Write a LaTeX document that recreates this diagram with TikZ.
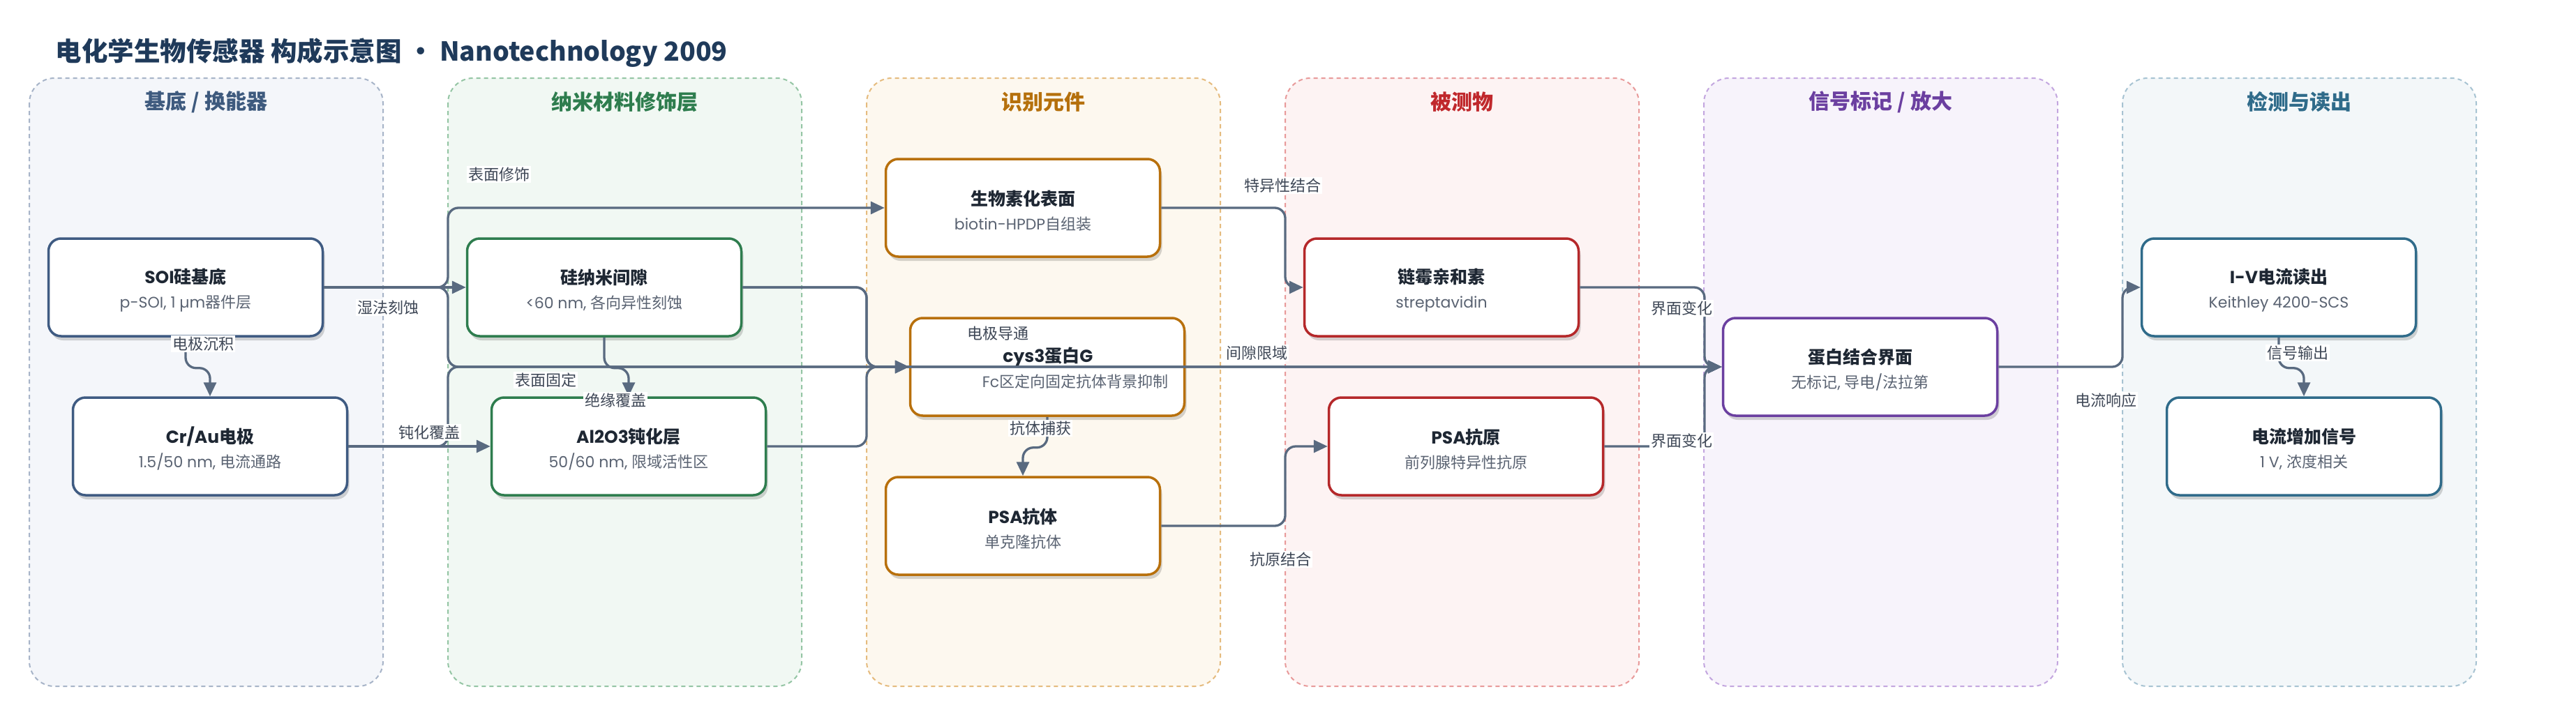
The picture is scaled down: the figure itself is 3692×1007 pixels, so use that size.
\documentclass[tikz,border=0pt]{standalone}
\usepackage{fontspec}
\setmainfont{Poppins}
\newfontfamily\cjkfam{Noto Sans CJK SC}
\newfontfamily\latfam{Poppins}
\usetikzlibrary{arrows.meta,shadows}

\XeTeXinterchartokenstate=1
\newXeTeXintercharclass\CJKcls
\count255="2E80
\loop
  \XeTeXcharclass\count255=\CJKcls
  \ifnum\count255<"9FFF \advance\count255 by 1
\repeat
\count255="FF00
\loop
  \XeTeXcharclass\count255=\CJKcls
  \ifnum\count255<"FFEF \advance\count255 by 1
\repeat
\XeTeXinterchartoks 0 \CJKcls = {\cjkfam}
\XeTeXinterchartoks 4095 \CJKcls = {\cjkfam}
\XeTeXinterchartoks \CJKcls 0 = {\latfam}

\definecolor{titlecol}{HTML}{1F3A5A}
\definecolor{nodetitle}{HTML}{1E2733}
\definecolor{subcol}{HTML}{5A6372}
\definecolor{labelcol}{HTML}{3E4756}
\definecolor{edgecol}{HTML}{596A80}
\definecolor{fA}{HTML}{F4F6FA}\definecolor{bA}{HTML}{A7B4C8}\definecolor{tA}{HTML}{3E5A7E}\definecolor{nA}{HTML}{3F5B82}
\definecolor{fB}{HTML}{F1F8F3}\definecolor{bB}{HTML}{94C5A4}\definecolor{tB}{HTML}{2E7D4E}\definecolor{nB}{HTML}{2E7D4E}
\definecolor{fC}{HTML}{FDF8EF}\definecolor{bC}{HTML}{E5BB7E}\definecolor{tC}{HTML}{B5700C}\definecolor{nC}{HTML}{B8700C}
\definecolor{fD}{HTML}{FDF3F3}\definecolor{bD}{HTML}{E89A9A}\definecolor{tD}{HTML}{C0282C}\definecolor{nD}{HTML}{B5282A}
\definecolor{fE}{HTML}{F7F3FB}\definecolor{bE}{HTML}{C3A6DF}\definecolor{tE}{HTML}{6B3FA0}\definecolor{nE}{HTML}{6B3FA0}
\definecolor{fF}{HTML}{F3F7F9}\definecolor{bF}{HTML}{A7C3D2}\definecolor{tF}{HTML}{2F6B8A}\definecolor{nF}{HTML}{2F6B8A}

\newcommand\ntxt[2]{\rule{0pt}{30pt}{\bfseries\fontsize{25}{35}\selectfont #1}\\{\color{subcol}\fontsize{22}{35}\selectfont #2}}

\tikzset{
  lane/.style={rounded corners=36pt, line width=2pt, dash pattern=on 6pt off 5pt},
  lanetitle/.style={font=\bfseries\fontsize{30}{36}\selectfont, anchor=center},
  box/.style={rounded corners=18pt, line width=3.5pt, fill=white, minimum width=393pt,
    minimum height=140pt, align=center, inner sep=0pt, text=nodetitle,
    font=\fontsize{22}{35}\selectfont,
    drop shadow={shadow xshift=3pt, shadow yshift=-6pt, opacity=0.16, fill=black}},
  edge/.style={line width=3.3pt, draw=edgecol, rounded corners=15pt,
    -{Triangle[length=20pt,width=18pt]}},
  elabel/.style={fill=white, inner sep=2pt, text=labelcol, font=\fontsize{22}{26}\selectfont},
}

\begin{document}
\begin{tikzpicture}[x=1pt,y=-1pt]
\useasboundingbox (0,0) rectangle (3692,1007);
\fill[white] (0,0) rectangle (3692,1007);

% title
\node[anchor=west, text=titlecol, font={\XeTeXinterchartokenstate=0 \cjkfam\bfseries\fontsize{37.5}{44}\selectfont}] (title) at (76,76) {电化学生物传感器 构成示意图 · Nanotechnology 2009};

% lanes
\draw[lane, fill=fA, draw=bA] (42,112) rectangle (549,984);
\draw[lane, fill=fB, draw=bB] (642,112) rectangle (1149,984);
\draw[lane, fill=fC, draw=bC] (1242,112) rectangle (1749,984);
\draw[lane, fill=fD, draw=bD] (1842,112) rectangle (2349,984);
\draw[lane, fill=fE, draw=bE] (2442,112) rectangle (2949,984);
\draw[lane, fill=fF, draw=bF] (3042,112) rectangle (3549,984);

\node[lanetitle, text=tA] (lt1) at (295.5,146) {基底 / 换能器};
\node[lanetitle, text=tB] (lt2) at (895.5,146) {纳米材料修饰层};
\node[lanetitle, text=tC] (lt3) at (1495.5,146) {识别元件};
\node[lanetitle, text=tD] (lt4) at (2095.5,146) {被测物};
\node[lanetitle, text=tE] (lt5) at (2695.5,146) {信号标记 / 放大};
\node[lanetitle, text=tF] (lt6) at (3295.5,146) {检测与读出};

% nodes
\node[box, draw=nA] (soi) at (266,412) {\ntxt{SOI硅基底}{p-SOI, 1 µm器件层}};
\node[box, draw=nA] (crau) at (301,640) {\ntxt{Cr/Au电极}{1.5/50 nm, 电流通路}};
\node[box, draw=nB] (gap) at (866,412) {\ntxt{硅纳米间隙}{<60 nm, 各向异性刻蚀}};
\node[box, draw=nB] (al) at (901,640) {\ntxt{Al2O3钝化层}{50/60 nm, 限域活性区}};
\node[box, draw=nC] (bio) at (1466,298) {\ntxt{生物素化表面}{biotin-HPDP自组装}};
\node[box, draw=nC] (cys) at (1501,526) {};
\node[box, draw=nC] (ab) at (1466,754) {\ntxt{PSA抗体}{单克隆抗体}};
\node[box, draw=nD] (sa) at (2066,412) {\ntxt{链霉亲和素}{streptavidin}};
\node[box, draw=nD] (ag) at (2101,640) {\ntxt{PSA抗原}{前列腺特异性抗原}};
\node[box, draw=nE] (iface) at (2666,526) {\ntxt{蛋白结合界面}{无标记, 导电/法拉第}};
\node[box, draw=nF] (iv) at (3266,412) {\ntxt{I-V电流读出}{Keithley 4200-SCS}};
\node[box, draw=nF] (sig) at (3302,640) {\ntxt{电流增加信号}{1 V, 浓度相关}};

\node[text=nodetitle, font=\bfseries\fontsize{25}{30}\selectfont] (cysT) at (1502,512) {cys3蛋白G};
\node[text=subcol, font=\fontsize{22}{26}\selectfont] (cysS) at (1541,547) {Fc区定向固定抗体背景抑制};

% edges
\draw[edge] (soi.east) -- (gap.west);
\draw[edge] (soi.south) -- ++(0,44) -| (crau.north);
\draw[edge] (soi.east) -- (642,412) |- (bio.west);
\draw[edge] (soi.east) -- (642,412) |- (cys.west);
\draw[edge] (crau.east) -- (642,640) |- (iface.west);
\draw[edge] (crau.east) -- (al.west);
\draw[edge] (gap.south) -- ++(0,44) -| (al.north);
\draw[edge] (gap.east) -- (1242,412) |- (cys.west);
\draw[edge] (al.east) -- (1242,640) |- (cys.west);
\draw[edge] (gap.east) -- (1242,412) |- (iface.west);
\draw[edge] (cys.south) -- ++(0,44) -| (ab.north);
\draw[edge] (bio.east) -- (1842,298) |- (sa.west);
\draw[edge] (ab.east) -- (1842,754) |- (ag.west);
\draw[edge] (sa.east) -- (2443,412) |- (iface.west);
\draw[edge] (ag.east) -- (2443,640) |- (iface.west);
\draw[edge] (iface.east) -- (3042,526) |- (iv.west);
\draw[edge] (iv.south) -- ++(0,44) -| (sig.north);

% edge labels
\node[elabel] (l1) at (556,441) {湿法刻蚀};
\node[elabel] (l2) at (291,493) {电极沉积};
\node[elabel] (l3) at (615,620) {钝化覆盖};
\node[elabel] (l4) at (715,250) {表面修饰};
\node[elabel] (l5) at (782,545) {表面固定};
\node[elabel] (l6) at (882,574) {绝缘覆盖};
\node[elabel] (l7) at (1430,478) {电极导通};
\node[elabel] (l8) at (1491,614) {抗体捕获};
\node[elabel] (l9) at (1838,266) {特异性结合};
\node[elabel] (l10) at (1801,506) {间隙限域};
\node[elabel] (l11) at (1835,802) {抗原结合};
\node[elabel] (l12) at (2410,442) {界面变化};
\node[elabel] (l13) at (2410,632) {界面变化};
\node[elabel] (l14) at (3018,574) {电流响应};
\node[elabel] (l15) at (3293,506) {信号输出};
\end{tikzpicture}
\end{document}
